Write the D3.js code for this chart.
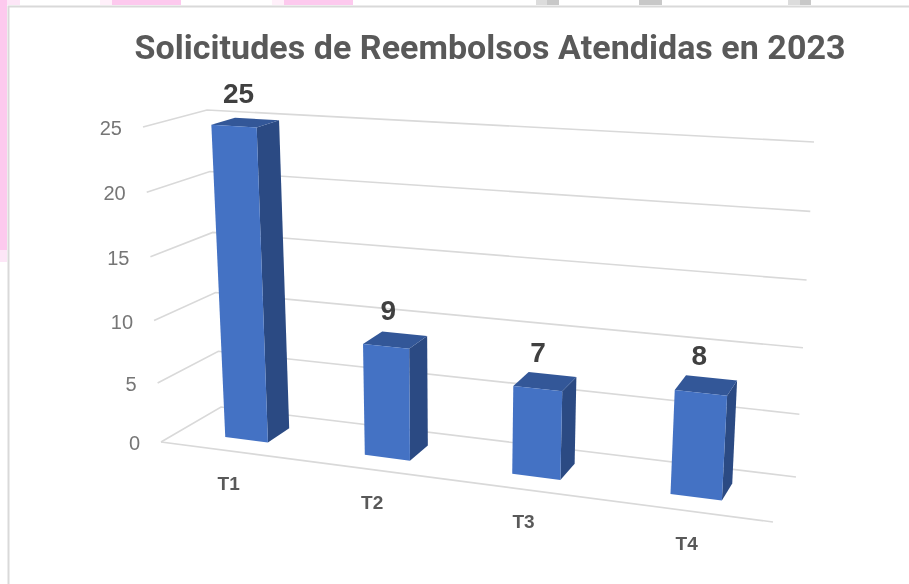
<!DOCTYPE html>
<html>
<head>
<meta charset="utf-8">
<script src="https://cdn.jsdelivr.net/npm/d3@7"></script>
<style>
  html, body { margin: 0; padding: 0; background: #fff; }
  /* the reference is a soft screenshot */
  svg { display: block; filter: blur(0.4px); }
</style>
</head>
<body>
<div id="chart"></div>
<script>
// chart values
var titleText = "Solicitudes de Reembolsos Atendidas en 2023";
var categories = ["T1", "T2", "T3", "T4"];
var values = [25, 9, 7, 8];
var valueTicks = [0, 5, 10, 15, 20, 25];

var width = 909, height = 584;

// corners of the 3d box on screen: [front/back][left/right][bottom/top]
var corners = {
  flb: [161, 442], frb: [773, 522], blb: [221, 407], brb: [796, 477],
  flt: [143, 127], frt: [795, 170], blt: [207, 110], brt: [814, 142]
};

var svg = d3.select("#chart")
  .append("svg")
    .attr("width", width)
    .attr("height", height);

// bits of the window behind the chart
var backdrop = [
  [0, 0, 7, 250, "#fdc9ee"], [0, 250, 7, 12, "#fde6f7"], [7, 0, 13, 5, "#fde6f7"],
  [100, 0, 12, 5, "#fff0fa"], [112, 0, 69, 5, "#fdc9ee"], [272, 0, 12, 5, "#fff0fa"],
  [284, 0, 69, 5, "#fdc9ee"], [536, 0, 12, 5, "#dcdcdc"], [547, 0, 12, 5, "#c8c8c8"],
  [639, 0, 23, 5, "#c8c8c8"], [788, 0, 12, 5, "#dcdcdc"], [800, 0, 11, 5, "#c8c8c8"]
];
svg.selectAll("rect.back")
  .data(backdrop)
  .enter()
  .append("rect")
    .attr("class", "back")
    .attr("x", function(d) { return d[0]; })
    .attr("y", function(d) { return d[1]; })
    .attr("width", function(d) { return d[2]; })
    .attr("height", function(d) { return d[3]; })
    .attr("fill", function(d) { return d[4]; });

// chart frame
svg.append("path")
  .attr("d", "M8.5,584V6.5H909")
  .attr("fill", "none")
  .attr("stroke", "#d9d9d9")
  .attr("stroke-width", 2);

// scales, all going to 0..1 inside the box
var x = d3.scaleBand()
  .domain(categories)
  .range([0, 1])
  .paddingInner(0.688)
  .paddingOuter(0.344);
// perspective: bands get wider towards the right
var xWarp = d3.scaleLinear()
  .domain([0, 0.125, 0.375, 0.625, 0.875, 1])
  .range([0, 0.1105, 0.345, 0.5925, 0.859, 1]);
var y = d3.scalePow().exponent(1.04).domain([0, 25]).range([0, 1]);

function mix(a, b, t) {
  return [a[0] + (b[0] - a[0]) * t, a[1] + (b[1] - a[1]) * t];
}

// u across, v up, w into the picture
function project(u, v, w) {
  var bottom = mix(mix(corners.flb, corners.frb, u), mix(corners.blb, corners.brb, u), w);
  var top = mix(mix(corners.flt, corners.frt, u), mix(corners.blt, corners.brt, u), w);
  return mix(bottom, top, v);
}

var line = d3.line();
var barFront = 0.31, barBack = 0.70;

// gridlines
var grid = svg.append("g")
  .attr("fill", "none")
  .attr("stroke", "#d9d9d9")
  .attr("stroke-width", 1.6);
valueTicks.forEach(function(t) {
  grid.append("path")
    .attr("d", line([project(0, y(t), 0), project(0, y(t), 1), project(1, y(t), 1)]));
});
grid.append("path")
  .attr("d", line([project(0, 0, 0), project(1, 0, 0)]));

// value axis labels
svg.selectAll("text.tick")
  .data(valueTicks)
  .enter()
  .append("text")
    .attr("class", "tick")
    .attr("x", function(d) { return project(0, y(d), 0)[0] - 21; })
    .attr("y", function(d) { return project(0, y(d), 0)[1] + 8; })
    .attr("text-anchor", "end")
    .attr("font-family", "Liberation Sans")
    .attr("font-size", 20)
    .attr("fill", "#767676")
    .text(function(d) { return d; });

// bars
categories.forEach(function(c, i) {
  var u0 = xWarp(x(c)), u1 = xWarp(x(c) + x.bandwidth()), v = y(values[i]);
  var side = [project(u1, 0, barFront), project(u1, 0, barBack), project(u1, v, barBack), project(u1, v, barFront)];
  var top = [project(u0, v, barFront), project(u1, v, barFront), project(u1, v, barBack), project(u0, v, barBack)];
  var front = [project(u0, 0, barFront), project(u1, 0, barFront), project(u1, v, barFront), project(u0, v, barFront)];

  svg.append("path").attr("d", line(side) + "Z").attr("fill", "#2b4a83");
  svg.append("path").attr("d", line(top) + "Z").attr("fill", "#335798");
  svg.append("path").attr("d", line(front) + "Z").attr("fill", "#4472c4");

  var mid = (u0 + u1) / 2;
  var topMid = project(mid, v, (barFront + barBack) / 2);
  svg.append("text")
    .attr("x", topMid[0] - 7)
    .attr("y", topMid[1] - 20)
    .attr("text-anchor", "middle")
    .attr("font-family", "Liberation Sans")
    .attr("font-weight", "bold")
    .attr("font-size", 28)
    .attr("fill", "#404040")
    .text(values[i]);

  var foot = project(xWarp(x(c) + x.bandwidth() / 2), 0, 0);
  svg.append("text")
    .attr("x", foot[0])
    .attr("y", foot[1] + 39)
    .attr("text-anchor", "middle")
    .attr("font-family", "Liberation Sans")
    .attr("font-weight", "bold")
    .attr("font-size", 19)
    .attr("fill", "#595959")
    .text(c);
});

// title
svg.append("text")
  .attr("x", 490)
  .attr("y", 59)
  .attr("text-anchor", "middle")
  .attr("font-family", "Roboto")
  .attr("font-weight", 700)
  .attr("font-size", 34)
  .attr("textLength", 711)
  .attr("lengthAdjust", "spacing")
  .attr("fill", "#595959")
  .text(titleText);
</script>
</body>
</html>
